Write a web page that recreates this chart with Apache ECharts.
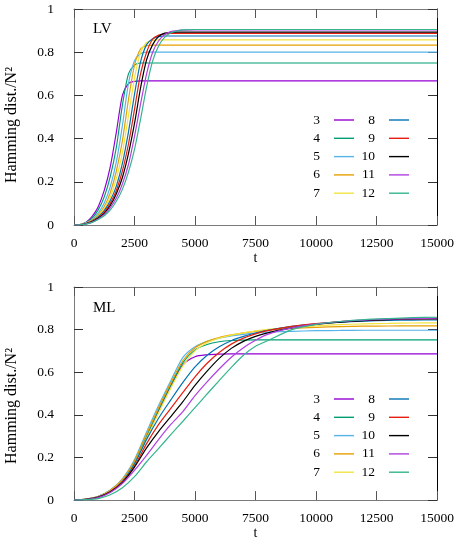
<!DOCTYPE html>
<html>
<head>
<meta charset="utf-8">
<script src="https://cdn.jsdelivr.net/npm/echarts@6/dist/echarts.min.js"></script>
<style>
  html, body { margin: 0; padding: 0; background: #fff; }
  #chart { width: 458px; height: 541px; }
</style>
</head>
<body>
<div id="chart"></div>
<script>
// series names (N) and gnuplot-like colours
const names = ['3', '4', '5', '6', '7', '8', '9', '10', '11', '12'];
const colors = ['#9400D3', '#009E73', '#56B4E9', '#E69F00', '#F0E442',
                '#0072B2', '#E51E10', '#000000', '#B040E0', '#35B58F'];

const xTicks = [0, 2500, 5000, 7500, 10000, 12500, 15000];
const yTicks = [0, 0.2, 0.4, 0.6, 0.8, 1];

// LV panel
const tLV = [0, 250, 500, 750, 1000, 1250, 1500, 1750, 2000, 2250, 2500, 2750,
             3000, 3250, 3500, 3750, 4000, 4250, 4500, 5000, 15000];
const lv3  = [0, .002, .013, .04, .085, .16, .27, .43, .60, .655, .665, .667, .667, .667, .667, .667, .667, .667, .667, .667, .667];
const lv4  = [0, .002, .011, .032, .07, .13, .225, .36, .555, .70, .74, .75, .75, .75, .75, .75, .75, .75, .75, .75, .75];
const lv5  = [0, .002, .01, .026, .055, .102, .178, .292, .46, .655, .76, .793, .80, .80, .80, .80, .80, .80, .80, .80, .80];
const lv6  = [0, .0015, .009, .023, .047, .086, .15, .25, .39, .58, .74, .815, .83, .833, .833, .833, .833, .833, .833, .833, .833];
const lv7  = [0, .0015, .008, .021, .042, .076, .13, .215, .335, .505, .68, .80, .845, .855, .857, .857, .857, .857, .857, .857, .857];
const lv8  = [0, .0012, .007, .019, .038, .067, .113, .18, .285, .43, .605, .755, .835, .862, .872, .875, .875, .875, .875, .875, .875];
const lv9  = [0, .0012, .006, .017, .034, .06, .10, .16, .25, .375, .535, .70, .80, .86, .879, .885, .887, .887, .887, .887, .887];
const lv10 = [0, .001, .006, .015, .031, .054, .09, .145, .22, .33, .47, .635, .765, .835, .873, .888, .892, .893, .893, .893, .893];
const lv11 = [0, .001, .005, .013, .028, .048, .08, .125, .19, .28, .41, .56, .70, .80, .853, .882, .895, .90, .902, .903, .903];
const lv12 = [0, .001, .004, .012, .025, .043, .07, .11, .165, .245, .35, .49, .64, .76, .83, .87, .89, .898, .903, .905, .905];

// ML panel
const tML = [0, 500, 1000, 1500, 2000, 2500, 3000, 3500, 4000, 4500, 5000, 5500,
             6000, 6500, 7000, 7500, 8000, 9000, 10000, 11000, 12000, 13000, 14000, 15000];
const ml3  = [0, .005, .017, .044, .093, .175, .295, .42, .535, .635, .673, .682, .685, .686, .686, .686, .686, .686, .686, .686, .686, .686, .686, .686];
const ml4  = [0, .005, .017, .045, .095, .18, .30, .425, .54, .645, .705, .73, .743, .749, .751, .752, .752, .752, .752, .752, .752, .752, .752, .752];
const ml5  = [0, .005, .018, .048, .10, .19, .32, .445, .56, .67, .72, .745, .76, .77, .778, .784, .788, .792, .795, .796, .797, .797, .797, .797];
const ml6  = [0, .005, .017, .046, .097, .185, .31, .435, .55, .655, .715, .745, .763, .775, .785, .792, .798, .806, .811, .814, .816, .817, .818, .818];
const ml7  = [0, .005, .016, .043, .09, .172, .29, .41, .525, .63, .70, .738, .76, .774, .785, .794, .801, .811, .818, .823, .827, .829, .831, .832];
const ml8  = [0, .004, .015, .04, .088, .17, .285, .385, .47, .552, .625, .68, .72, .748, .768, .784, .797, .815, .827, .835, .84, .843, .845, .846];
const ml9  = [0, .004, .014, .04, .085, .16, .265, .355, .43, .505, .578, .642, .693, .732, .76, .78, .795, .815, .828, .838, .844, .848, .85, .851];
const ml10 = [0, .004, .013, .038, .082, .155, .245, .323, .392, .462, .538, .605, .665, .712, .745, .768, .785, .808, .824, .835, .842, .847, .85, .852];
const ml11 = [0, .003, .012, .036, .078, .14, .21, .285, .355, .415, .49, .555, .615, .67, .715, .75, .778, .808, .826, .838, .845, .849, .852, .854];
const ml12 = [0, .002, .007, .025, .058, .11, .18, .243, .307, .37, .434, .498, .561, .623, .68, .722, .748, .80, .825, .838, .847, .852, .856, .858];

const lvSets = [lv3, lv4, lv5, lv6, lv7, lv8, lv9, lv10, lv11, lv12];
const mlSets = [ml3, ml4, ml5, ml6, ml7, ml8, ml9, ml10, ml11, ml12];

const FONT = 'Liberation Serif';
const GRAY = '#7a7a7a';

function pairs(ts, vs) {
  return ts.map((t, i) => [t, vs[i]]);
}

function xAxis(grid, pos) {
  const main = pos === 'bottom';
  return {
    type: 'value', gridIndex: grid, position: pos,
    min: xTicks[0], max: xTicks[xTicks.length - 1], interval: xTicks[1] - xTicks[0],
    name: main ? 't' : '', nameLocation: 'middle', nameGap: 24,
    nameTextStyle: { fontFamily: FONT, fontSize: 14, color: '#000' },
    axisLine: { show: true, onZero: false, lineStyle: { color: GRAY, width: 1 } },
    axisTick: { show: true, inside: true, length: 9, lineStyle: { color: '#555' } },
    axisLabel: { show: main, margin: 11, fontFamily: FONT, fontSize: 13.5, color: '#000',
                 formatter: v => String(v) },
    splitLine: { show: false }
  };
}

function yAxis(grid, pos) {
  const main = pos === 'left';
  return {
    type: 'value', gridIndex: grid, position: pos,
    min: yTicks[0], max: yTicks[yTicks.length - 1], interval: yTicks[1] - yTicks[0],
    axisLine: { show: true, onZero: false, lineStyle: { color: main ? GRAY : '#000', width: 1 } },
    axisTick: { show: true, inside: true, length: 9, lineStyle: { color: '#333' } },
    axisLabel: {
      show: main, margin: 20, fontFamily: FONT, fontSize: 13.5, color: '#000',
      formatter: v => (v === 0 || v === 1) ? String(v) : v.toFixed(1)
    },
    splitLine: { show: false }
  };
}

function legend(top, left, items) {
  return {
    orient: 'vertical', top: top, left: left, data: items,
    align: 'right', icon: 'rect', itemWidth: 20, itemHeight: 1.4, itemGap: 4.3,
    selectedMode: false,
    formatter: '{n|{name}}{s| }',
    textStyle: {
      fontFamily: FONT, fontSize: 13.5, color: '#000', lineHeight: 14,
      rich: { n: { width: 22, align: 'right', fontFamily: FONT, fontSize: 13.5, lineHeight: 14 }, s: { width: 9 } }
    }
  };
}

const series = [];
names.forEach((n, i) => {
  series.push({
    name: n, type: 'line', xAxisIndex: 0, yAxisIndex: 0,
    data: pairs(tLV, lvSets[i]), showSymbol: false, smooth: 0.25,
    color: colors[i], lineStyle: { width: 1.2 }
  });
  series.push({
    name: n, type: 'line', xAxisIndex: 2, yAxisIndex: 2,
    data: pairs(tML, mlSets[i]), showSymbol: false, smooth: 0.25,
    color: colors[i], lineStyle: { width: 1.2 }
  });
});

const titleFont = '16px "Liberation Serif"';

const chart = echarts.init(document.getElementById('chart'));
chart.setOption({
  animation: false,
  backgroundColor: '#fff',
  grid: [
    { left: 74, top: 9, width: 363, height: 216 },
    { left: 74, top: 287, width: 363, height: 217 }
  ],
  xAxis: [xAxis(0, 'bottom'), xAxis(0, 'top'), xAxis(1, 'bottom'), xAxis(1, 'top')],
  yAxis: [yAxis(0, 'left'), yAxis(0, 'right'), yAxis(1, 'left'), yAxis(1, 'right')],
  legend: [
    legend(108, 293, names.slice(0, 5)),
    legend(108, 348, names.slice(5)),
    legend(387, 293, names.slice(0, 5)),
    legend(387, 348, names.slice(5))
  ],
  graphic: [
    { type: 'text', x: 12, y: 125, rotation: Math.PI / 2,
      style: { text: 'Hamming dist./N²', font: titleFont, fill: '#000',
               align: 'center', verticalAlign: 'middle', textAlign: 'center', textVerticalAlign: 'middle' } },
    { type: 'text', x: 12, y: 406, rotation: Math.PI / 2,
      style: { text: 'Hamming dist./N²', font: titleFont, fill: '#000',
               align: 'center', verticalAlign: 'middle', textAlign: 'center', textVerticalAlign: 'middle' } },
    { type: 'text', left: 93, top: 22,
      style: { text: 'LV', font: '15px "Liberation Serif"', fill: '#000' } },
    { type: 'text', left: 93, top: 301,
      style: { text: 'ML', font: '15px "Liberation Serif"', fill: '#000' } }
  ],
  series: series
});
</script>
</body>
</html>
